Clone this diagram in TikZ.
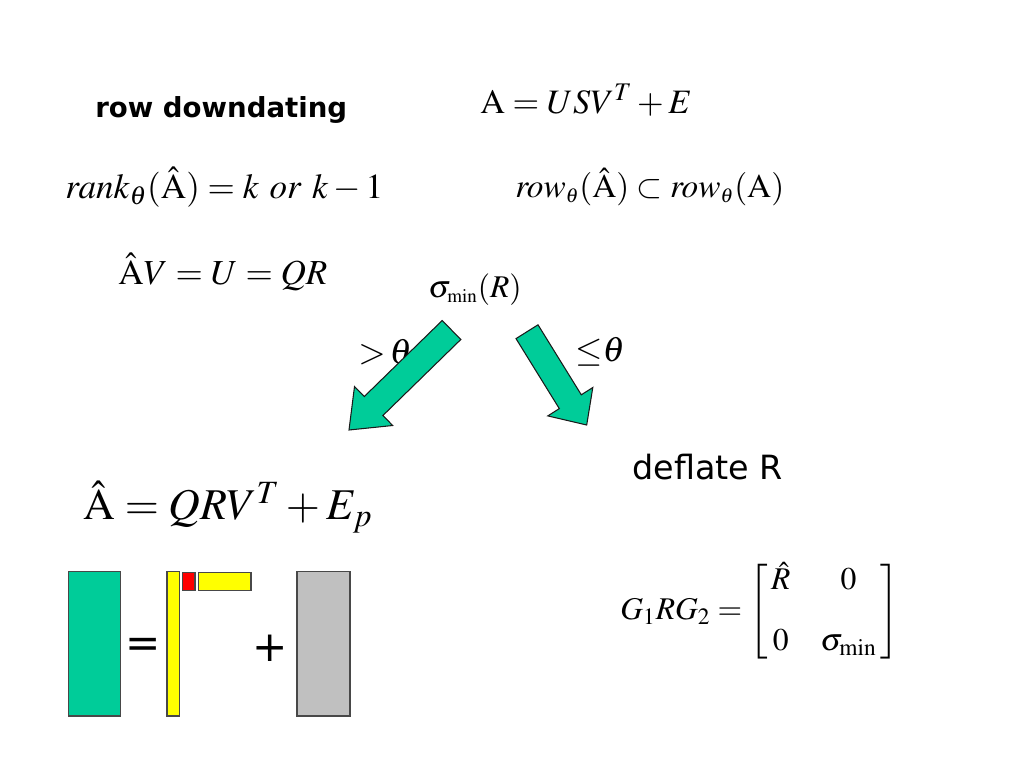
\documentclass[tikz,border=0pt]{standalone}
\usepackage{amsmath}
\usepackage{mathptmx}
\usepackage[no-math]{fontspec}
\newfontfamily\sansfnt{DejaVu Sans}
\usetikzlibrary{positioning}
\definecolor{ink}  {HTML}{1A1A1A}
\definecolor{sea}  {HTML}{00CC99}
\definecolor{lemon}{HTML}{FFFF00}
\definecolor{blood}{HTML}{FF0000}
\definecolor{slate}{HTML}{C0C0C0}
\newcommand{\tsub}{_{\scriptscriptstyle\theta}}
\tikzset{
  % --- text
  eq/.style    = {anchor=west, inner sep=0pt, font=\fontsize{20}{24}\selectfont},
  bigeq/.style = {eq, font=\fontsize{25}{30}\selectfont},
  heading/.style = {anchor=west, inner sep=0pt, font=\sansfnt\bfseries\fontsize{15.7}{18}\selectfont},
  plain/.style = {anchor=west, inner sep=0pt, font=\sansfnt\fontsize{19}{22}\selectfont},
  sym/.style   = {inner sep=0pt, font=\sansfnt\fontsize{24}{28}\selectfont},
  % --- blocks
  blk/.style   = {draw=ink!80, line width=0.6pt},
  bigarrow/.style = {draw=ink, fill=sea, line width=0.6pt, line join=miter},
}
\begin{document}
\begin{tikzpicture}[x=0.02cm,y=-0.02cm]
  \useasboundingbox (0,0) rectangle (1024,768);

  % statements
  \node[heading] (title)  at (95,110)  {row downdating};
  \node[eq, font=\fontsize{19.5}{24}\selectfont] (modelA) at (480,100) {$\mathrm{A} = USV^{T} + E$};
  \node[eq] (rankEq)  at (65,187)  {$\mathit{rank}_{\theta}(\hat{\mathrm{A}}) = k\ \mathit{or}\ k-1$};
  \node[eq, font=\fontsize{19}{24}\selectfont] (rowEq) at (515,187)
        {$\mathit{row}\tsub(\hat{\mathrm{A}}) \subset \mathit{row}\tsub(\mathrm{A})$};
  \node[eq] (avEq)    at (118,272) {$\hat{\mathrm{A}}V = U = QR$};
  \node[eq, font=\fontsize{18}{22}\selectfont] (sigmaR) at (428,290)
        {$\sigma_{\scriptscriptstyle\mathrm{min}}(R)$};

  % the two branches
  \node[eq] (gtTheta) at (358,352) {$\mathord{>}\,\theta$};
  \node[eq] (leTheta) at (575,352) {$\mathord{\leq}\theta$};
  \draw[bigarrow] (442.2,320.5) -- (364.3,396.5) -- (354.5,386.5) -- (349,430)
        -- (392.7,425.5) -- (382.9,415.5) -- (460.8,339.5) -- cycle;
  \draw[bigarrow] (516,338.6) -- (559.3,408.6) -- (547.8,415.9) -- (586.7,425)
        -- (592.8,387.5) -- (581.3,394.8) -- (538,324.8) -- cycle;

  % left: keep the factorization
  \node[bigeq] (aHatEq) at (83,507) {$\hat{\mathrm{A}} = QRV^{T} + E_{p}$};
  \draw[blk, fill=sea]   (68.3,571.7) rectangle (120.7,716);
  \node[sym] (eqSign) at (143,648) {=};
  \draw[blk, fill=lemon] (167,571.7) rectangle (179.7,716);
  \draw[blk, fill=blood] (182.3,572.3) rectangle (195,590.3);
  \draw[blk, fill=lemon] (198.3,572.3) rectangle (251,590.3);
  \node[sym] (plusSign) at (270,648) {+};
  \draw[blk, fill=slate] (297,571.7) rectangle (350,716);

  % right: deflate
  \node[plain] (deflate) at (632,467) {deflate R};
  \node[eq, font=\fontsize{18}{22}\selectfont] (givensEq) at (620,612)
        {$G_{1}RG_{2} = \left[\begin{array}{@{\,}c@{\hspace{6mm}}c@{\,}} \hat{R} & 0\\[4.5mm] 0 & \sigma_{\mathrm{min}}\end{array}\right]$};
\end{tikzpicture}
\end{document}
